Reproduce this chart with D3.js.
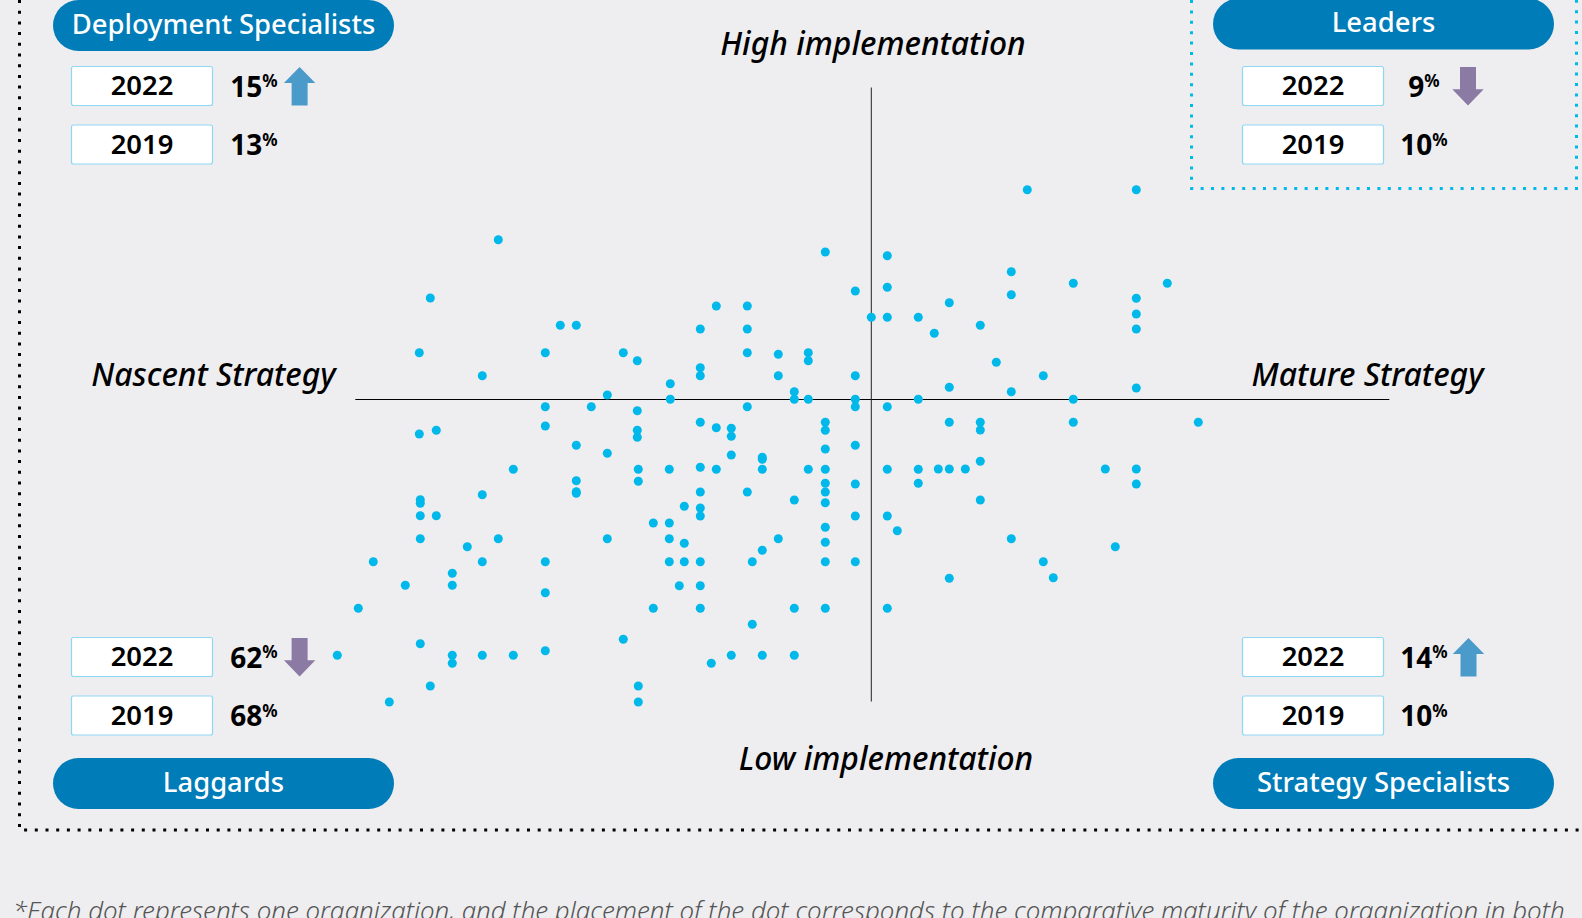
<!DOCTYPE html>
<html><head><meta charset="utf-8">
<script src="https://cdnjs.cloudflare.com/ajax/libs/d3/7.8.5/d3.min.js"></script>
<style>html,body{margin:0;padding:0;background:#eeeef0;overflow:hidden}svg{display:block}</style>
</head><body><svg id="c" width="1582" height="918"></svg>
<script>
// Strategy maturity (x) and implementation maturity (y), relative to the quadrant centre
const strategy = [-37.3,-44.1,-45.2,-31.1,-29.5,-32.6,-24.8,-23.4,-38.9,-26.4,-32.6,-28,-23.4,-32.6,-45.2,-43.5,-23.4,-23.4,
-4.6,1.6,1.6,-1.6,-15.5,-12.4,0,1.6,4.7,6.3,-17.1,-12.4,-12.4,-9.3,-6.3,-6.3,-17.1,-17.1,-9.3,-1.6,-20.1,-20.1,-7.7,-7.7,-6.3,-1.6,-1.6,1.6,4.7,-12.4,-17.1,-15.5,-14,-14,-4.6,-4.6,
15.6,26.5,14,20.2,29.6,14,26.5,7.8,26.5,26.5,10.9,12.5,17.2,7.8,14,26.5,20.2,7.8,10.9,20.2,32.7,10.9,
-29.5,-26.4,-35.8,-29.5,-29.5,-29.5,-38.9,-45.1,-45.1,-45.1,-43.5,-45.1,-37.3,-26.4,-40.4,-49.8,-38.9,-32.6,-41.9,-41.9,-46.6,-32.6,-51.3,-45.1,-53.4,-41.9,-41.9,-38.9,-35.8,-32.6,-24.8,-44.1,-48.2,
-4.6,-1.6,-14,-10.9,-10.9,-23.3,-20.2,-17.1,-15.5,-10.9,-6.3,-4.6,1.6,4.7,-23.3,-4.6,-1.6,4.7,-17.1,-12.4,-7.7,-4.6,-4.6,-18.7,-17.1,-17.1,-1.6,1.6,-21.8,-20.2,-4.6,2.6,-20.2,-18.7,-9.3,-4.6,-10.9,-20.2,-18.7,-17.1,-11.9,-4.6,-1.6,-19.2,-17.1,-21.8,-17.1,-7.7,-4.6,1.6,-11.9,-14,-10.9,-7.7,-16,-23.3,-23.3,
6.7,7.8,9.4,10.9,23.4,26.5,26.5,10.9,14,24.4,17.2,7.8,18.2];
const implementation = [15.98,10.15,4.68,7.42,7.42,4.68,4.68,3.88,2.38,0.45,-0.72,-0.72,-1.12,-2.65,-3.45,-3.08,-3.08,-3.78,
14.75,14.38,11.22,10.85,9.35,9.35,8.22,8.22,8.22,6.62,7.05,7.05,4.68,4.52,4.68,3.88,3.18,2.38,2.38,2.38,1.58,0.02,0.78,0.02,0.02,0.02,-0.72,-0.72,0.02,-0.72,-2.28,-2.82,-2.88,-3.68,-2.28,-3.08,
20.98,20.98,12.78,11.62,11.62,10.48,10.12,9.68,8.55,7.05,7.42,3.72,2.38,1.22,0.78,1.15,0.02,-2.28,-2.28,-2.28,-2.28,-3.05,
-4.58,-5.38,-6.98,-8.12,-9.22,-9.38,-9.52,-10.02,-10.38,-11.62,-11.62,-13.92,-13.92,-13.92,-14.72,-16.22,-16.22,-16.22,-17.38,-18.58,-18.58,-19.32,-20.88,-24.42,-25.58,-25.58,-26.38,-25.58,-25.58,-25.12,-23.98,-28.65,-30.25,
-4.95,-4.58,-5.55,-5.78,-5.98,-6.98,-6.98,-6.78,-6.98,-6.98,-6.98,-6.98,-6.98,-6.98,-8.18,-8.38,-8.45,-8.38,-9.25,-9.25,-10.05,-9.25,-10.32,-10.68,-10.85,-11.65,-11.65,-11.65,-12.35,-12.35,-12.78,-13.12,-13.92,-14.38,-13.92,-14.28,-15.08,-16.22,-16.22,-16.22,-16.22,-16.22,-16.22,-18.62,-18.62,-20.88,-20.88,-20.88,-20.88,-20.88,-22.48,-25.58,-25.58,-25.58,-26.38,-28.65,-30.25,
-6.95,-6.95,-6.95,-6.18,-6.95,-6.95,-8.45,-10.05,-13.92,-14.72,-16.22,-17.88,-17.82];

const years = ["2022","2019"];
const segmentNames = ["Deployment Specialists","Leaders","Laggards","Strategy Specialists"];
const share2022 = [15,9,62,14];
const share2019 = [13,10,68,10];
const axisLabels = ["High implementation","Low implementation","Nascent Strategy","Mature Strategy"];
const footnote = "*Each dot represents one organization, and the placement of the dot corresponds to the comparative maturity of the organization in both";

const FONT = "'Noto Sans', sans-serif";
const svg = d3.select("#c");
const x = d3.scaleLinear().domain([-52,52]).range([351.3,1391.3]);
const y = d3.scaleLinear().domain([-31,31]).range([709.5,89.5]);

// frames
const frame = svg.append("g").attr("fill","none");
frame.append("path").attr("d","M19.5,0V830H1582").attr("stroke","#000").attr("stroke-width",3).attr("stroke-dasharray","3 7.7");
frame.append("path").attr("d","M1191.5,0V188.5H1576.5V0").attr("stroke","#00b9ea").attr("stroke-width",3).attr("stroke-dasharray","3 7.4");

// quadrant axes built with the library's axis generators
const axX = svg.append("g").attr("transform",`translate(0,${y(0)})`)
  .call(d3.axisBottom(x).tickValues([]).tickSize(0));
axX.select(".domain").attr("stroke","#000").attr("stroke-width",1);
const axY = svg.append("g").attr("transform",`translate(${x(0)},0)`)
  .call(d3.axisLeft(y).tickValues([]).tickSize(0));
axY.select(".domain").attr("stroke","#222").attr("stroke-width",1);
axX.select(".domain").attr("d",`M${x(-51.6)},0H${x(51.8)}`);
axY.select(".domain").attr("d",`M0,${y(31.2)}V${y(-30.2)}`);

// dots
svg.append("g").selectAll("circle").data(strategy.map((s,i)=>[s,implementation[i]])).join("circle")
  .attr("cx",d=>x(d[0])).attr("cy",d=>y(d[1])).attr("r",4.5).attr("fill","#00b9ea");

// axis titles
const titlePos = [[873,55],[886,770],[213.5,386],[1367.5,386]];
svg.append("g").selectAll("text").data(axisLabels).join("text")
  .attr("x",(d,i)=>titlePos[i][0]).attr("y",(d,i)=>titlePos[i][1]).attr("text-anchor","middle")
  .attr("font-family",FONT).attr("font-style","italic").attr("font-weight",500).attr("font-size",31.8).attr("fill","#000")
  .text(d=>d);

// quadrant panels
const panels = [
 {pill:[53,0],box:[71.5,66.5,125],pct:254,arrow:[299.6,67,"up"]},
 {pill:[1213,-1.5],box:[1242.5,66.5,125],pct:1424,arrow:[1468,67,"down"]},
 {pill:[53,758],box:[71.5,637.5,696],pct:254,arrow:[299.6,638,"down"]},
 {pill:[1213,758],box:[1242.5,637.5,696],pct:1424,arrow:[1468.5,638,"up"]}
];
const arrowShape = {
 up:[[0,0],[15.7,16],[8,16],[8,38.5],[-8,38.5],[-8,16],[-15.7,16]],
 down:[[-8,0],[8,0],[8,22.3],[15.7,22.3],[0,38.5],[-15.7,22.3],[-8,22.3]]
};
const arrowColor = {up:"#4a9aca",down:"#8b7aa4"};
panels.forEach((p,i)=>{
  const g = svg.append("g");
  g.append("rect").attr("x",p.pill[0]).attr("y",p.pill[1]).attr("width",341).attr("height",51).attr("rx",25.5).attr("fill","#007cb8");
  g.append("text").attr("x",p.pill[0]+170.5).attr("y",p.pill[1]+33.5).attr("text-anchor","middle")
   .attr("font-family",FONT).attr("font-weight",500).attr("font-size",27.4).attr("fill","#fff").text(segmentNames[i]);
  years.forEach((yr,j)=>{
    const by = p.box[j+1];
    const val = j===0?share2022[i]:share2019[i];
    g.append("rect").attr("x",p.box[0]).attr("y",by).attr("width",141).attr("height",39).attr("rx",2)
     .attr("fill","#fff").attr("stroke","#8fd8f5").attr("stroke-width",1.2);
    g.append("text").attr("x",p.box[0]+70.5).attr("y",by+28.5).attr("text-anchor","middle")
     .attr("font-family",FONT).attr("font-weight",600).attr("font-size",27.4).attr("fill","#000").text(yr);
    const t = g.append("text").attr("x",p.pct).attr("y",by+30).attr("text-anchor","middle")
     .attr("font-family",FONT).attr("font-weight",700).attr("fill","#000");
    t.append("tspan").attr("font-size",28).text(val);
    t.append("tspan").attr("font-size",17).attr("dy",-9.5).text("%");
  });
  const [ax,ay,dir] = p.arrow;
  g.append("path").attr("d",d3.line()(arrowShape[dir].map(q=>[ax+q[0],ay+q[1]]))+"Z").attr("fill",arrowColor[dir]);
});

// footnote
svg.append("text").attr("x",13).attr("y",920).attr("font-family",FONT).attr("font-style","italic").attr("font-weight",300)
  .attr("font-size",25.9).attr("fill","#555").text(footnote);
</script></body></html>
